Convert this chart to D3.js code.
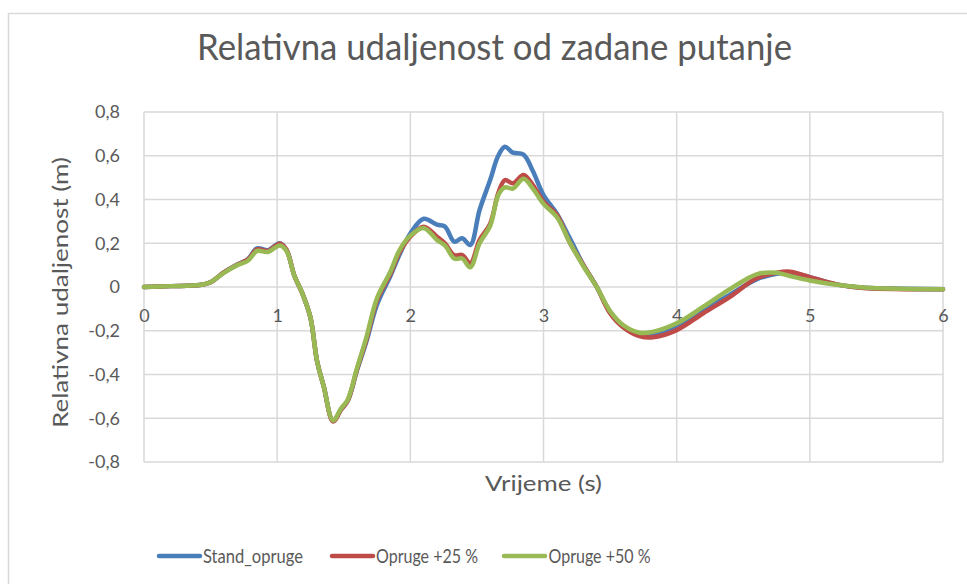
<!DOCTYPE html>
<html>
<head>
<meta charset="utf-8">
<script src="https://cdn.jsdelivr.net/npm/d3@7/dist/d3.min.js"></script>
<style>
  html, body { margin: 0; padding: 0; background: #fff; }
  svg { display: block; font-family: Lato, "Open Sans", sans-serif; }
</style>
</head>
<body>
<svg id="chart" width="967" height="584"></svg>
<script>
// Time samples (s) shared by all three series
const time = [0, 0.2, 0.42, 0.5, 0.6, 0.7, 0.78, 0.85, 0.93, 1.02, 1.07, 1.13, 1.19, 1.25, 1.3, 1.35, 1.42, 1.48, 1.53, 1.6, 1.67, 1.75, 1.85, 1.92, 2.0, 2.1, 2.2, 2.26, 2.33, 2.39, 2.45, 2.52, 2.6, 2.66, 2.71, 2.77, 2.85, 2.92, 3.0, 3.1, 3.2, 3.3, 3.4, 3.5, 3.6, 3.72, 3.82, 4.0, 4.2, 4.4, 4.6, 4.75, 4.85, 5.0, 5.2, 5.4, 5.7, 6.0];

// Relative distance from the target path (m)
const standOpruge = [0, 0.004, 0.009, 0.022, 0.067, 0.103, 0.127, 0.177, 0.168, 0.2, 0.17, 0.05, -0.03, -0.14, -0.34, -0.455, -0.612, -0.56, -0.52, -0.38, -0.25, -0.08, 0.05, 0.15, 0.245, 0.312, 0.285, 0.276, 0.207, 0.223, 0.192, 0.352, 0.49, 0.6, 0.641, 0.614, 0.605, 0.53, 0.42, 0.335, 0.22, 0.1, 0.0, -0.115, -0.18, -0.215, -0.215, -0.18, -0.105, -0.035, 0.035, 0.06, 0.065, 0.045, 0.012, -0.003, -0.008, -0.01];
const opruge25 = [0, 0.004, 0.009, 0.022, 0.067, 0.102, 0.125, 0.172, 0.165, 0.198, 0.17, 0.05, -0.03, -0.14, -0.34, -0.455, -0.615, -0.56, -0.52, -0.375, -0.24, -0.06, 0.06, 0.16, 0.23, 0.276, 0.23, 0.2, 0.145, 0.146, 0.108, 0.215, 0.29, 0.428, 0.489, 0.474, 0.512, 0.466, 0.39, 0.33, 0.2, 0.1, 0.0, -0.12, -0.185, -0.224, -0.23, -0.197, -0.12, -0.045, 0.04, 0.065, 0.07, 0.045, 0.012, -0.005, -0.01, -0.01];
const opruge50 = [0, 0.004, 0.009, 0.022, 0.065, 0.1, 0.12, 0.165, 0.16, 0.19, 0.165, 0.05, -0.03, -0.14, -0.34, -0.456, -0.61, -0.555, -0.515, -0.37, -0.23, -0.05, 0.07, 0.17, 0.235, 0.27, 0.215, 0.19, 0.13, 0.13, 0.09, 0.2, 0.28, 0.42, 0.455, 0.45, 0.495, 0.45, 0.38, 0.32, 0.2, 0.095, 0.0, -0.11, -0.175, -0.209, -0.205, -0.166, -0.09, -0.01, 0.058, 0.065, 0.05, 0.03, 0.01, -0.002, -0.008, -0.01];

const seriesNames = ["Stand_opruge", "Opruge +25 %", "Opruge +50 %"];
const seriesColors = ["#4a7ebb", "#be4b48", "#98b954"];
const xTicks = [0, 1, 2, 3, 4, 5, 6];
const yTicks = [-0.8, -0.6, -0.4, -0.2, 0, 0.2, 0.4, 0.6, 0.8];

const svg = d3.select("#chart");
const textColor = "#595959";
const gridColor = "#d9d9d9";

// outer chart frame
svg.append("rect")
  .attr("x", 8.5).attr("y", 13.5)
  .attr("width", 980).attr("height", 600)
  .attr("fill", "#fff").attr("stroke", gridColor).attr("stroke-width", 1.5);

const x = d3.scaleLinear().domain([0, 6]).range([144, 943]);
const y = d3.scaleLinear().domain([-0.8, 0.8]).range([462, 112]);

// gridlines
const grid = svg.append("g");
grid.selectAll("line.h").data(yTicks).join("line")
  .attr("class", "h")
  .attr("x1", x(0)).attr("x2", x(6))
  .attr("y1", d => y(d)).attr("y2", d => y(d))
  .attr("stroke", gridColor).attr("stroke-width", 1.5);
grid.selectAll("line.v").data(xTicks).join("line")
  .attr("class", "v")
  .attr("x1", d => x(d)).attr("x2", d => x(d))
  .attr("y1", y(0.8)).attr("y2", y(-0.8))
  .attr("stroke", gridColor).attr("stroke-width", 1.5);

const fmt = v => (Math.abs(v) < 1e-9 ? "0" : d3.format(".1f")(v).replace(".", ",").replace("−", "-"));

// y-axis tick labels
const yAxis = svg.append("g")
  .attr("transform", `translate(${x(0)},0)`)
  .call(d3.axisLeft(y).tickValues(yTicks).tickFormat(fmt).tickSize(0).tickPadding(24));
yAxis.select(".domain").remove();
yAxis.selectAll("text")
  .attr("fill", textColor).attr("font-size", 18)
  .attr("font-family", "Lato, sans-serif");

// x-axis tick labels, sitting on the zero line
const xAxis = svg.append("g")
  .attr("transform", `translate(0,${y(0)})`)
  .call(d3.axisBottom(x).tickValues(xTicks).tickFormat(d3.format("d")).tickSize(0).tickPadding(22));
xAxis.select(".domain").remove();
xAxis.selectAll("text")
  .attr("fill", textColor).attr("font-size", 18)
  .attr("font-family", "Lato, sans-serif");

// series lines
const line = d3.line()
  .x((d, i) => x(time[i]))
  .y(d => y(d))
  .curve(d3.curveCatmullRom.alpha(0.5));

const seriesData = [standOpruge, opruge25, opruge50];
svg.append("g").selectAll("path").data(seriesData).join("path")
  .attr("d", d => line(d))
  .attr("fill", "none")
  .attr("stroke", (d, i) => seriesColors[i])
  .attr("stroke-width", 4.5)
  .attr("stroke-linejoin", "round")
  .attr("stroke-linecap", "round");

// title
svg.append("text")
  .attr("x", 494.5).attr("y", 60)
  .attr("text-anchor", "middle")
  .attr("font-size", 37)
  .attr("fill", textColor)
  .attr("textLength", 595).attr("lengthAdjust", "spacingAndGlyphs")
  .text("Relativna udaljenost od zadane putanje");

// axis titles
svg.append("text")
  .attr("transform", "translate(68,292.5) rotate(-90)")
  .attr("text-anchor", "middle")
  .attr("font-size", 21)
  .attr("fill", textColor)
  .attr("textLength", 271).attr("lengthAdjust", "spacingAndGlyphs")
  .text("Relativna udaljenost (m)");

svg.append("text")
  .attr("x", 543.5).attr("y", 491)
  .attr("text-anchor", "middle")
  .attr("font-size", 21)
  .attr("fill", textColor)
  .attr("textLength", 117).attr("lengthAdjust", "spacingAndGlyphs")
  .text("Vrijeme (s)");

// legend
const legendItems = [
  { x1: 159, x2: 200, tx: 203, tw: 100 },
  { x1: 332, x2: 373, tx: 376, tw: 102 },
  { x1: 504, x2: 545, tx: 548.5, tw: 102 }
];
const legend = svg.append("g");
legendItems.forEach((it, i) => {
  legend.append("line")
    .attr("x1", it.x1).attr("x2", it.x2)
    .attr("y1", 556).attr("y2", 556)
    .attr("stroke", seriesColors[i]).attr("stroke-width", 4.5)
    .attr("stroke-linecap", "round");
  legend.append("text")
    .attr("x", it.tx).attr("y", 562.5)
    .attr("font-size", 20)
    .attr("fill", textColor)
    .attr("textLength", it.tw).attr("lengthAdjust", "spacingAndGlyphs")
    .text(seriesNames[i]);
});
</script>
</body>
</html>
